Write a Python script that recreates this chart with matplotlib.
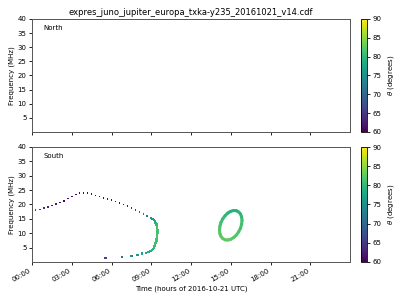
import matplotlib
matplotlib.use("Agg")
import matplotlib.pyplot as plt
from matplotlib.colors import Normalize
from matplotlib.collections import LineCollection
import numpy as np

title = "expres_juno_jupiter_europa_txka-y235_20161021_v14.cdf"
xtick_hours = [0, 3, 6, 9, 12, 15, 18, 21]
xtick_labels = ["00:00", "03:00", "06:00", "09:00", "12:00", "15:00", "18:00", "21:00"]
ytick_vals = [5, 10, 15, 20, 25, 30, 35, 40]
cbar_ticks = [60, 65, 70, 75, 80, 85, 90]

# South hemisphere arc, upper branch (hours, MHz, theta deg)
arc_time = [0.0, 0.25, 0.6, 0.9, 1.2, 1.5, 1.8, 2.1, 2.4, 2.7, 3.0, 3.3, 3.6, 3.9, 4.2,
            4.5, 4.8, 5.1, 5.4, 5.7, 6.0, 6.3, 6.6, 6.9, 7.2, 7.5, 7.8, 8.1, 8.4, 8.7]
arc_freq = [18.0, 18.1, 18.3, 18.7, 19.1, 19.6, 20.1, 20.7, 21.3, 22.0, 22.7, 23.4, 23.9, 24.0, 24.0,
            23.6, 23.1, 22.7, 22.3, 21.9, 21.5, 21.0, 20.5, 20.0, 19.4, 18.8, 18.1, 17.3, 16.6, 16.0]
arc_theta = [66, 66, 65, 64, 63, 62, 62, 61, 61, 61, 61, 60.5, 60.5, 60.5, 60.5,
             60.5, 61, 61, 61, 61, 61, 61, 61, 61.5, 62, 63, 65, 68, 71, 73]

# South hemisphere arc, nose and lower branch
nose_time = [9.0, 9.1, 9.2, 9.28, 9.33, 9.38, 9.42, 9.44, 9.45, 9.46, 9.46, 9.46, 9.45, 9.44,
             9.43, 9.41, 9.39, 9.36, 9.33, 9.3, 9.26, 9.2, 9.13, 9.05, 8.95, 8.8, 8.6,
             8.3, 7.97, 7.52, 6.8, 5.55]
nose_freq = [15.2, 14.9, 14.5, 14.0, 13.5, 13.0, 12.5, 12.0, 11.5, 11.0, 10.5, 10.0, 9.5, 9.0,
             8.5, 8.0, 7.5, 7.0, 6.5, 6.0, 5.5, 5.0, 4.5, 4.1, 3.8, 3.4, 3.1,
             2.85, 2.4, 1.97, 1.77, 1.4]
nose_theta = [75, 76, 77, 78, 79, 80, 80.5, 81, 81, 81, 81, 81, 81, 81,
              81, 81, 81, 81, 81, 80.5, 80.5, 80, 80, 79.5, 79, 78.5, 78,
              77, 76, 74, 71, 66]

# South hemisphere closed loop (hours, MHz, theta deg)
loop_time = [15.85, 15.82, 15.74, 15.60, 15.43, 15.22, 15.00, 14.78, 14.58, 14.40, 14.26, 14.18,
             14.15, 14.18, 14.26, 14.40, 14.58, 14.78, 15.00, 15.22, 15.43, 15.60, 15.74, 15.82, 15.85]
loop_freq = [14.43, 15.63, 16.64, 17.38, 17.81, 17.89, 17.62, 17.02, 16.13, 15.01, 13.73, 12.39,
             11.07, 9.87, 8.86, 8.12, 7.69, 7.61, 7.88, 8.48, 9.37, 10.50, 11.77, 13.11, 14.43]
loop_theta = [80.5, 80, 79.5, 79.5, 79, 79, 79, 79.5, 80, 80.5, 81, 81.5,
              82, 82, 82.5, 82.5, 82.5, 82.5, 82.5, 82, 82, 81.5, 81, 81, 80.5]

fig = plt.figure(figsize=(4, 3), dpi=100)
norm = Normalize(vmin=60, vmax=90)
cmap = plt.get_cmap("viridis")

ax1 = fig.add_axes([0.08, 0.56, 0.795, 0.377])
ax2 = fig.add_axes([0.08, 0.127, 0.795, 0.383])
cax1 = fig.add_axes([0.902, 0.56, 0.015, 0.377])
cax2 = fig.add_axes([0.902, 0.127, 0.015, 0.383])

fs = 5
for ax, name in [(ax1, "North"), (ax2, "South")]:
    ax.set_xlim(0, 24)
    ax.set_ylim(0, 40)
    ax.set_yticks(ytick_vals)
    ax.set_xticks(xtick_hours)
    ax.tick_params(labelsize=fs, length=2.5, width=0.6, pad=1.5)
    ax.set_ylabel("Frequency (MHz)", fontsize=fs, labelpad=2)
    ax.text(0.035, 0.9, name, transform=ax.transAxes, fontsize=fs)
    for s in ax.spines.values():
        s.set_linewidth(0.7)
        s.set_color("#555555")

ax1.set_xticklabels([])
ax2.set_xticklabels(xtick_labels, rotation=30, ha="right")
ax2.set_xlabel("Time (hours of 2016-10-21 UTC)", fontsize=fs, labelpad=2)
ax1.set_title(title, fontsize=6, pad=3)

ax2.scatter(arc_time, arc_freq, c=arc_theta, cmap=cmap, norm=norm, s=1.3, marker="s", linewidths=0)
ax2.scatter(nose_time, nose_freq, c=nose_theta, cmap=cmap, norm=norm, s=3.2, marker="s", linewidths=0)

pts = np.column_stack([loop_time, loop_freq])
segs = np.stack([pts[:-1], pts[1:]], axis=1)
lc = LineCollection(segs, cmap=cmap, norm=norm, linewidths=2.2, capstyle="round")
lc.set_array(np.array(loop_theta[:-1]))
ax2.add_collection(lc)

sm = plt.cm.ScalarMappable(norm=norm, cmap=cmap)
for cax in (cax1, cax2):
    cb = fig.colorbar(sm, cax=cax, ticks=cbar_ticks)
    cb.ax.tick_params(labelsize=fs, length=2.5, width=0.6, pad=1.5)
    cb.set_label(r"$\theta$ (degrees)", fontsize=fs, labelpad=3)
    cb.outline.set_linewidth(0.6)

fig.savefig("out.png", dpi=100)
